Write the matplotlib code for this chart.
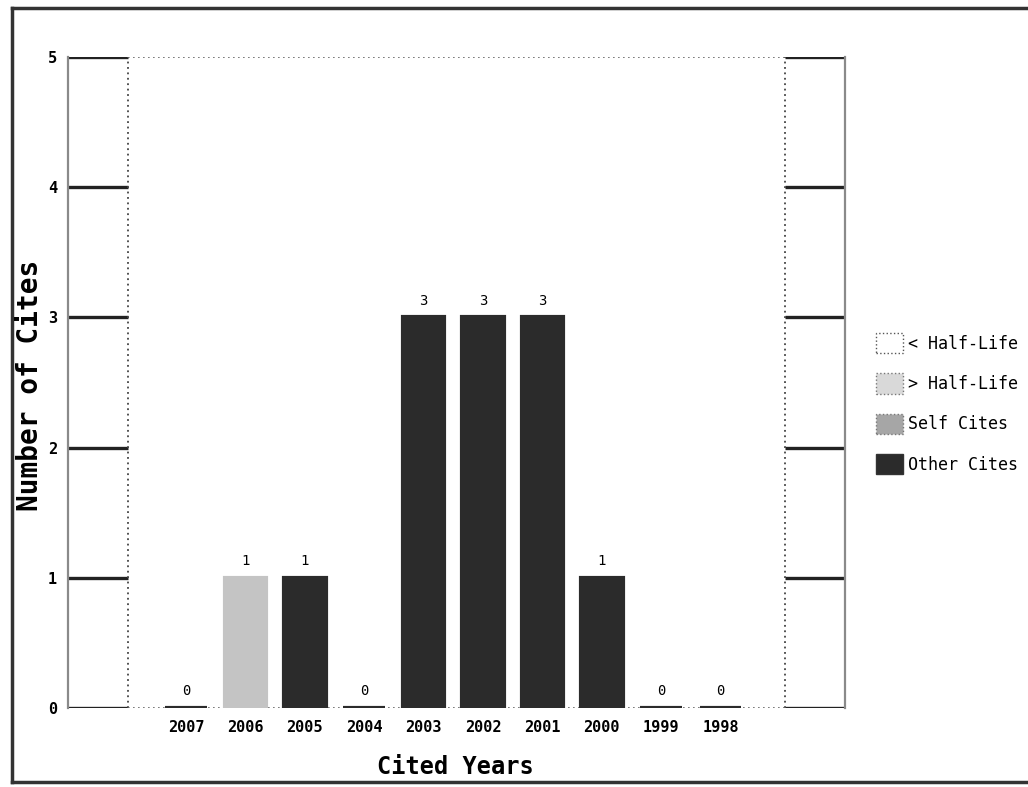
import matplotlib
matplotlib.use("Agg")
import matplotlib.pyplot as plt
from matplotlib.patches import Patch
from matplotlib.lines import Line2D

# data
years = ["2007", "2006", "2005", "2004", "2003", "2002", "2001", "2000", "1999", "1998"]
cites = [0, 1, 1, 0, 3, 3, 3, 1, 0, 0]
cite_kind = ["other", "self", "other", "other", "other", "other", "other", "other", "other", "other"]
y_ticks = [0, 1, 2, 3, 4, 5]
legend_labels = ["< Half-Life", "> Half-Life", "Self Cites", "Other Cites"]

W, H = 1028, 787
MONO = "DejaVu Sans Mono"

kind_colors = {
    "under": "white",
    "over": "#d9d9d9",
    "self": "#c4c4c4",
    "other": "#2b2b2b",
}


def fx(px):
    return px / W


def fy(py):
    return 1 - py / H


def main():
    fig = plt.figure(figsize=(W / 100, H / 100), dpi=100)
    fig.patch.set_facecolor("white")

    # plot area incl. the two side panels: x 68..845, y 57..708 (pixels)
    ax = fig.add_axes([fx(68), fy(708), (845 - 68) / W, (708 - 57) / H])
    slot0, step = 186, 59.4
    x_left = -(slot0 - 68) / step
    x_right = (845 - slot0) / step
    in_left = -(slot0 - 128) / step
    in_right = (785 - slot0) / step
    ax.set_xlim(x_left, x_right)
    ax.set_ylim(0, 5)

    for side in ["top", "bottom"]:
        ax.spines[side].set_visible(False)
    for side in ["left", "right"]:
        ax.spines[side].set_color("#8a8a8a")
        ax.spines[side].set_linewidth(1.6)

    # side panels with tick lines
    ax.hlines(y_ticks, x_left, in_left, color="#222222", lw=2.4, zorder=2)
    ax.hlines(y_ticks, in_right, x_right, color="#222222", lw=2.4, zorder=2)
    ax.vlines([in_left, in_right], 0, 5, color="#444444", lw=1.3,
              linestyles=(0, (1, 2)), zorder=2)
    ax.hlines([0, 5], in_left, in_right, color="#666666", lw=1.2,
              linestyles=(0, (1, 2)), zorder=2)

    xpos = list(range(len(years)))
    colors = [kind_colors[k] for k in cite_kind]
    bars = ax.bar(xpos, cites, width=0.70, color=colors, edgecolor=colors,
                  lw=3, zorder=3)
    ax.bar_label(bars, labels=[str(v) for v in cites], padding=7,
                 fontsize=10, family=MONO)

    ax.set_xticks(xpos, years, family=MONO, fontsize=11, fontweight="bold")
    ax.set_yticks(y_ticks, [str(v) for v in y_ticks], family=MONO,
                  fontsize=11, fontweight="bold")
    ax.tick_params(axis="x", length=0, pad=9)
    ax.tick_params(axis="y", length=0, pad=8)

    fig.text(fx(455), fy(767), "Cited Years", ha="center", va="center",
             family=MONO, fontweight="bold", fontsize=17)
    fig.text(fx(30), fy(385), "Number of Cites", ha="center", va="center",
             rotation=90, family=MONO, fontweight="bold", fontsize=20)

    handles = [
        Patch(facecolor=kind_colors["under"], edgecolor="#555555", linestyle=":"),
        Patch(facecolor=kind_colors["over"], edgecolor="#777777", linestyle=":"),
        Patch(facecolor="#a6a6a6", edgecolor="#777777", linestyle=":"),
        Patch(facecolor=kind_colors["other"], edgecolor="#333333"),
    ]
    fig.legend(handles, legend_labels, loc="upper left",
               bbox_to_anchor=(fx(876), fy(333)), frameon=False,
               prop={"family": MONO, "size": 12}, handlelength=1.6,
               handleheight=1.5, labelspacing=1.2, handletextpad=0.3,
               borderaxespad=0, borderpad=0)

    # outer frame (left, top, bottom)
    frame = dict(color="#333333", lw=2.5, transform=fig.transFigure)
    fig.add_artist(Line2D([fx(12), fx(12)], [fy(8), fy(782)], **frame))
    fig.add_artist(Line2D([fx(12), 1], [fy(8), fy(8)], **frame))
    fig.add_artist(Line2D([fx(12), 1], [fy(782), fy(782)], **frame))

    fig.savefig("out.png", dpi=100)


if __name__ == "__main__":
    main()
